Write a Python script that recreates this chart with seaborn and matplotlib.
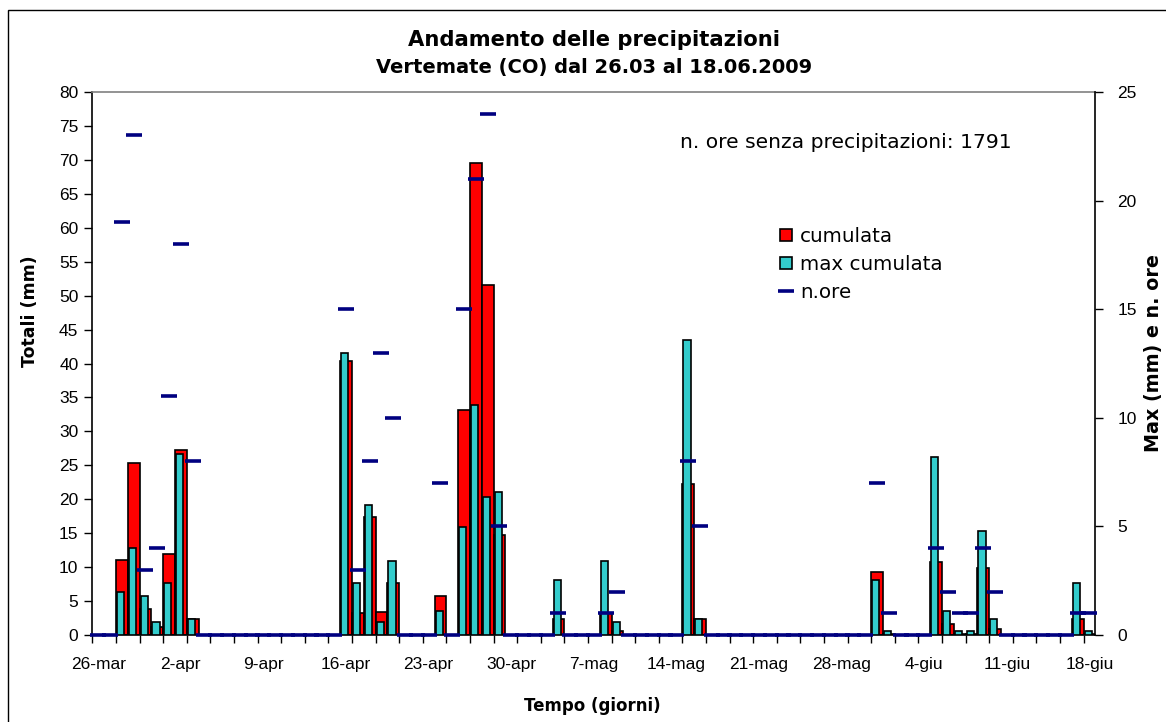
import numpy as np
import pandas as pd
import matplotlib
matplotlib.use("Agg")
import matplotlib.pyplot as plt
import seaborn as sns
from matplotlib.lines import Line2D

# ---------------- data (one value per day, 26-mar .. 18-giu 2009) ----------------
giorni = pd.date_range("2009-03-26", "2009-06-18", freq="D")

cumulata = [
    0, 0, 11.1, 25.3, 3.9, 1.2, 11.9, 27.3, 2.4, 0,
    0, 0, 0, 0, 0, 0, 0, 0, 0, 0,
    0, 40.3, 3.3, 17.4, 3.4, 7.6, 0, 0, 0, 5.7,
    0, 33.2, 69.6, 51.6, 14.8, 0, 0, 0, 0, 2.4,
    0, 0, 0, 3.3, 0.6, 0, 0, 0, 0, 0,
    22.3, 2.4, 0, 0, 0, 0, 0, 0, 0, 0,
    0, 0, 0, 0, 0, 0, 9.3, 0.2, 0, 0,
    0, 10.8, 1.6, 0.2, 0.2, 9.9, 0.9, 0, 0, 0,
    0, 0, 0, 2.4, 0.2,
]

max_cumulata = [
    0, 0, 2.0, 4.0, 1.8, 0.6, 2.4, 8.35, 0.75, 0,
    0, 0, 0, 0, 0, 0, 0, 0, 0, 0,
    0, 13.0, 2.4, 6.0, 0.6, 3.4, 0, 0, 0, 1.1,
    0, 4.95, 10.6, 6.35, 6.6, 0, 0, 0, 0, 2.55,
    0, 0, 0, 3.4, 0.6, 0, 0, 0, 0, 0,
    13.6, 0.75, 0, 0, 0, 0, 0, 0, 0, 0,
    0, 0, 0, 0, 0, 0, 2.55, 0.2, 0, 0,
    0, 8.2, 1.1, 0.2, 0.2, 4.8, 0.75, 0, 0, 0,
    0, 0, 0, 2.4, 0.2,
]

n_ore = [
    0, 0, 19, 23, 3, 4, 11, 18, 8, 0,
    0, 0, 0, 0, 0, 0, 0, 0, 0, 0,
    0, 15, 3, 8, 13, 10, 0, 0, 0, 7,
    0, 15, 21, 24, 5, 0, 0, 0, 0, 1,
    0, 0, 0, 1, 2, 0, 0, 0, 0, 0,
    8, 5, 0, 0, 0, 0, 0, 0, 0, 0,
    0, 0, 0, 0, 0, 0, 7, 1, 0, 0,
    0, 4, 2, 1, 1, 4, 2, 0, 0, 0,
    0, 0, 0, 1, 1,
]

tick_labels = ["26-mar", "2-apr", "9-apr", "16-apr", "23-apr", "30-apr", "7-mag",
               "14-mag", "21-mag", "28-mag", "4-giu", "11-giu", "18-giu"]
ore_senza = 1791

df = pd.DataFrame({
    "giorno": np.arange(len(giorni)),
    "cumulata": cumulata,
    "max_cumulata": max_cumulata,
    "n_ore": n_ore,
})
df["pos_max"] = df["giorno"] - 0.1

# ---------------- figure ----------------
sns.set_theme(style="white")
plt.rcParams["font.family"] = ["DejaVu Sans"]
plt.rcParams["text.color"] = "black"
plt.rcParams["axes.labelcolor"] = "black"
plt.rcParams["xtick.color"] = "black"
plt.rcParams["ytick.color"] = "black"

W, H = 1166, 722
fig = plt.figure(figsize=(W / 100, H / 100), dpi=100)
left, right, top, bottom = 92.3, 1095.3, 92, 635
ax = fig.add_axes([left / W, (H - bottom) / H, (right - left) / W, (bottom - top) / H])

RED = "#FF0000"
CYAN = "#33CCCC"
NAVY = "#000080"

sns.barplot(data=df, x="giorno", y="cumulata", native_scale=True, width=1.0,
            color=RED, saturation=1, edgecolor="black", linewidth=1.2,
            errorbar=None, ax=ax)

ax2 = ax.twinx()
sns.barplot(data=df, x="pos_max", y="max_cumulata", native_scale=True, width=0.6,
            color=CYAN, saturation=1, edgecolor="black", linewidth=1.2,
            errorbar=None, ax=ax2)
sns.scatterplot(data=df, x="giorno", y="n_ore", marker="_", s=120, color=NAVY,
                linewidth=2.6, ax=ax2, clip_on=False, zorder=5, legend=False)

# ---------------- axes ----------------
ax.set_xlim(-0.5, len(giorni) - 0.5)
ax.set_ylim(0, 80)
ax2.set_ylim(0, 25)

ax.set_xticks(np.arange(0, len(giorni), 7))
ax.set_xticklabels(tick_labels, fontfamily="Liberation Sans", fontsize=12.5, color="black")
ax.set_xticks(np.arange(-0.5, len(giorni) - 1, 2), minor=True)
ax.tick_params(axis="x", which="major", bottom=True, length=0, pad=16)
ax.tick_params(axis="x", which="minor", bottom=True, length=6, width=1, color="black")

ax.set_yticks(np.arange(0, 81, 5))
ax.set_yticklabels([str(v) for v in range(0, 81, 5)], fontfamily="Liberation Sans",
                   fontsize=12.5, color="black")
ax.tick_params(axis="y", left=True, length=6, width=1, color="black", pad=4)

ax2.set_yticks(np.arange(0, 26, 5))
ax2.set_yticklabels([str(v) for v in range(0, 26, 5)], fontfamily="Liberation Sans",
                    fontsize=12.5, color="black")
ax2.tick_params(axis="y", right=True, length=6, width=1, color="black", pad=10)

for a in (ax, ax2):
    a.set_xlabel("")
    a.set_ylabel("")
    a.grid(False)

ax.spines["left"].set_color("black")
ax.spines["left"].set_linewidth(1.2)
ax.spines["bottom"].set_color("black")
ax.spines["bottom"].set_linewidth(1.2)
ax.spines["top"].set_color("#808080")
ax.spines["top"].set_linewidth(1.2)
ax.spines["right"].set_visible(False)
ax2.spines["right"].set_color("black")
ax2.spines["right"].set_linewidth(1.2)
for s in ("top", "left", "bottom"):
    ax2.spines[s].set_visible(False)

# ---------------- texts ----------------
fig.text(594 / W, 1 - 40 / H, "Andamento delle precipitazioni", ha="center", va="center",
         fontsize=15.2, fontweight="bold")
fig.text(594 / W, 1 - 68 / H, "Vertemate (CO) dal 26.03 al 18.06.2009", ha="center", va="center",
         fontsize=14, fontweight="bold")
fig.text(30 / W, 1 - 311 / H, "Totali (mm)", rotation=90, ha="center", va="center",
         fontsize=12.5, fontweight="bold")
fig.text(592 / W, 1 - 706 / H, "Tempo (giorni)", ha="center", va="center",
         fontsize=12, fontweight="bold")
fig.text(1153 / W, 1 - 353 / H, "Max (mm) e n. ore", rotation=90, ha="center", va="center",
         fontsize=13.8, fontweight="bold")
fig.text(680 / W, 1 - 142 / H, f"n. ore senza precipitazioni: {ore_senza}", ha="left", va="center",
         fontsize=14.6)

handles = [
    Line2D([], [], linestyle="none", marker="s", markersize=9, markerfacecolor=RED,
           markeredgecolor="black", markeredgewidth=1.2),
    Line2D([], [], linestyle="none", marker="s", markersize=9, markerfacecolor=CYAN,
           markeredgecolor="black", markeredgewidth=1.2),
    Line2D([], [], linestyle="none", marker="_", markersize=11, markeredgewidth=2.6,
           color=NAVY),
]
fig.legend(handles, ["cumulata", "max cumulata", "n.ore"], loc="upper left",
           bbox_to_anchor=(779 / W, 1 - 227 / H), frameon=False, fontsize=14.3,
           handlelength=0.75, handletextpad=0.3, labelspacing=0.45,
           borderaxespad=0, borderpad=0)

# chart-area border (left and top visible)
fig.add_artist(plt.Rectangle((8 / W, -0.1), 1.2, 1.1 - 10 / H, transform=fig.transFigure,
                             fill=False, edgecolor="black", linewidth=1))

fig.savefig("out.png", dpi=100)
